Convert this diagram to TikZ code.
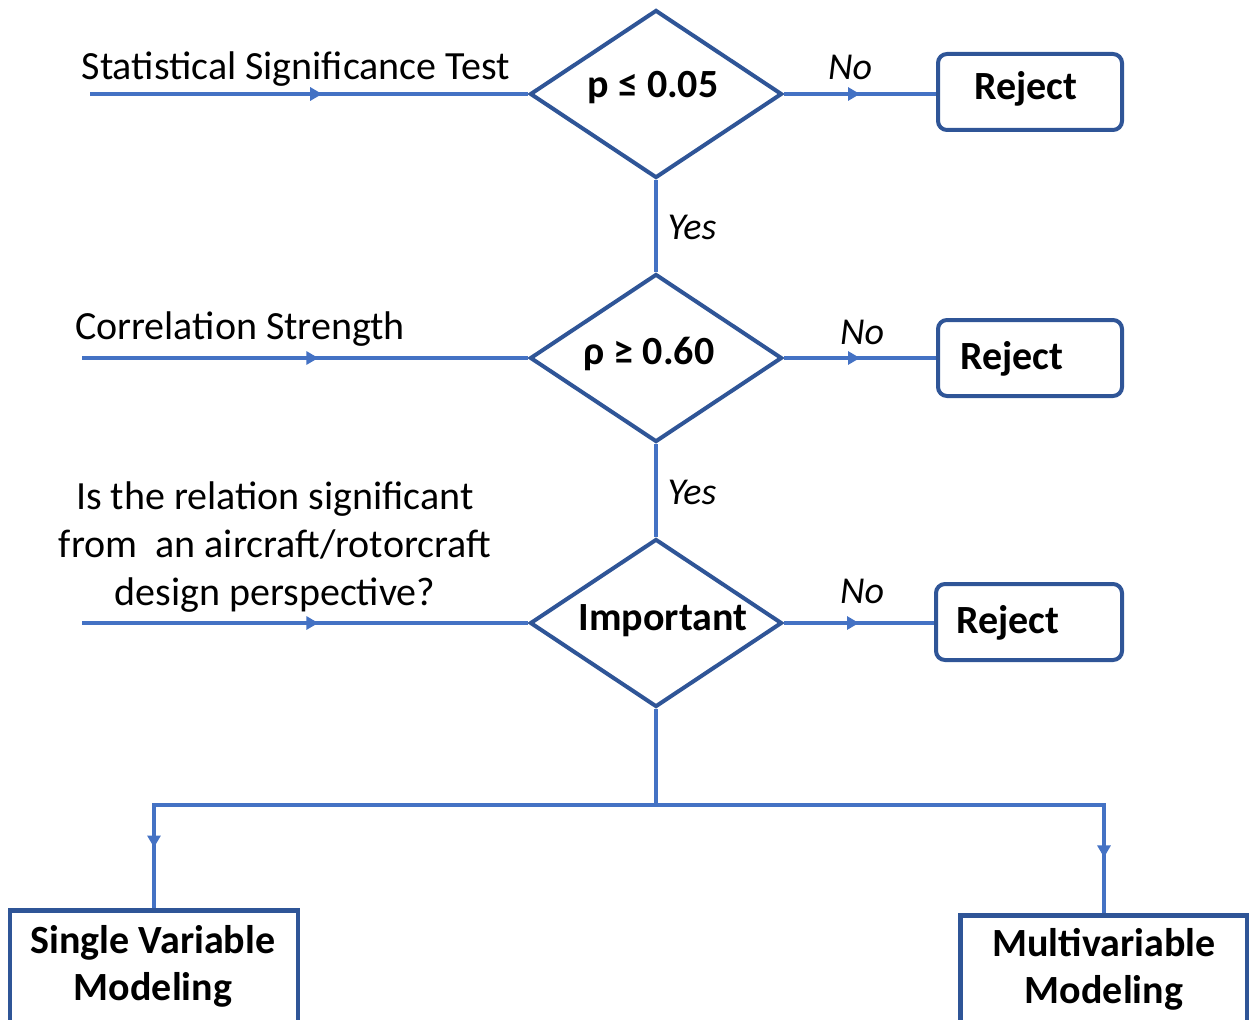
\documentclass[tikz,border=0pt]{standalone}
\usepackage{fontspec}
\setmainfont{Carlito}
\usetikzlibrary{shapes.geometric,arrows.meta,decorations.markings}
\definecolor{lineblue}{HTML}{4472C4}
\definecolor{boxblue}{HTML}{2F5597}
\begin{document}
\begin{tikzpicture}[x=1pt,y=-1pt,
  flow/.style={draw=lineblue,line width=3.5pt,postaction=decorate,
    decoration={markings,mark=at position #1 with {\arrow[color=lineblue]{Triangle[length=12pt,width=13pt]}}}},
  flow/.default=0.5,
  plain/.style={draw=lineblue,line width=3.5pt},
  dia/.style={diamond,draw=boxblue,line width=4pt,minimum width=252pt,minimum height=168pt,inner sep=0pt},
  diatxt/.style={font=\fontsize{40}{44}\selectfont\bfseries},
  rej/.style={rectangle,rounded corners=9pt,draw=boxblue,line width=4pt,minimum width=184pt,minimum height=76pt},
  rejtxt/.style={font=\fontsize{40}{44}\selectfont\bfseries},
  bigbox/.style={rectangle,draw=boxblue,line width=4.5pt,minimum width=288pt,minimum height=150pt,anchor=north},
  bigtxt/.style={font=\fontsize{40}{47}\selectfont\bfseries,align=center},
  lbl/.style={font=\fontsize{40}{48}\selectfont,align=center},
  yn/.style={font=\fontsize{38}{40}\selectfont\itshape}
]
\useasboundingbox (0,0) rectangle (1249,1019);
\clip (0,0) rectangle (1249,1019);

% diamonds
\node[dia] (d1) at (656,94) {};
\node[dia] (d2) at (656,358) {};
\node[dia] (d3) at (656,623) {};
\node[diatxt] (dt1) at (653,88) {p ≤ 0.05};
\node[diatxt] (dt2) at (649,354) {ρ ≥ 0.60};
\node[diatxt] (dt3) at (663,621) {Important};

% reject boxes
\node[rej] (r1) at (1030,92) {};
\node[rej] (r2) at (1030,358) {};
\node[rej,minimum width=186pt] (r3) at (1029,622) {};
\node[rejtxt] (t1) at (1026,89) {Reject};
\node[rejtxt] (t2) at (1012,359) {Reject};
\node[rejtxt] (t3) at (1008,623) {Reject};

% bottom boxes
\node[bigbox] (sv) at (154,908) {};
\node[bigbox,minimum width=287pt] (mv) at (1104,913) {};
\node[bigtxt] (svt) at (153,966) {Single Variable\\Modeling};
\node[bigtxt] (mvt) at (1104,969) {Multivariable\\Modeling};

% input labels
\node[lbl] (l1) at (296,69) {Statistical Significance Test};
\node[lbl] (l2) at (240,329) {Correlation Strength};
\node[lbl] (l3) at (275,547) {Is the relation significant\\from\ \ an aircraft/rotorcraft\\design perspective?};

% input line start points
\coordinate (s1) at (90,94);
\coordinate (s2) at (82,358);
\coordinate (s3) at (82,623);

\draw[flow=0.53] (s1) -- (d1.west);
\draw[flow=0.53] (s2) -- (d2.west);
\draw[flow=0.53] (s3) -- (d3.west);

% No branches
\draw[flow=0.5] (d1.east) -- (r1.west |- d1.east);
\draw[flow=0.5] (d2.east) -- (r2.west |- d2.east);
\draw[flow=0.5] (d3.east) -- (r3.west |- d3.east);
\node[yn] (n1) at (850,67) {No};
\node[yn] (n2) at (862,332) {No};
\node[yn] (n3) at (862,591) {No};

% Yes branches
\draw[plain] (d1.south) -- (d2.north);
\draw[plain] (d2.south) -- (d3.north);
\node[yn] (y1) at (692,227) {Yes};
\node[yn] (y2) at (692,492) {Yes};

% split
\coordinate (j) at (656,805);
\draw[plain] (d3.south) -- (j);
\draw[flow=0.9,line join=miter] (j) -| (sv.north);
\draw[flow=0.9,line join=miter] (j) -| (mv.north);
\end{tikzpicture}
\end{document}
